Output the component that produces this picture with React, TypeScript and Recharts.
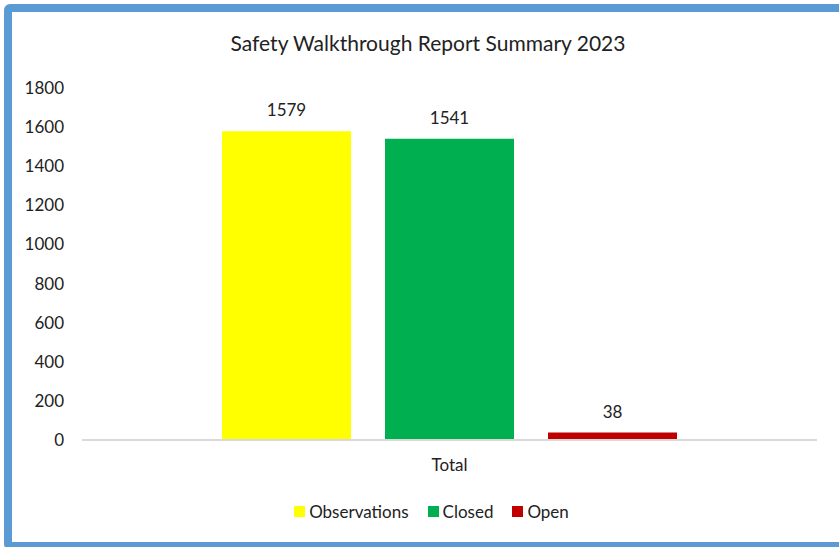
import React from 'react';
import { BarChart, Bar, XAxis, YAxis, Legend, LabelList } from 'recharts';

const categories = ['Total'];
const observations = [1579];
const closed = [1541];
const open = [38];
const yTicks = [0, 200, 400, 600, 800, 1000, 1200, 1400, 1600, 1800];

const series = [
  { key: 'observations', name: 'Observations', color: '#FFFF00' },
  { key: 'closed', name: 'Closed', color: '#00B050' },
  { key: 'open', name: 'Open', color: '#C00000' },
];

const data = categories.map((name, i) => ({
  name,
  observations: observations[i],
  closed: closed[i],
  open: open[i],
}));

const font = 'Lato, "Noto Sans", sans-serif';
const textColor = '#222';

const renderLegend = () => (
  <div
    style={{
      display: 'flex',
      justifyContent: 'center',
      paddingLeft: 46,
      paddingTop: 1,
      fontFamily: font,
      fontSize: 17,
      color: textColor,
    }}
  >
    {series.map((s, i) => (
      <div
        key={s.key}
        style={{ display: 'flex', alignItems: 'center', marginLeft: i === 0 ? 0 : 19 }}
      >
        <span style={{ display: 'inline-block', width: 11, height: 11, background: s.color, marginRight: 4 }} />
        <span>{s.name}</span>
      </div>
    ))}
  </div>
);

export default function App() {
  return (
    <div style={{ position: 'fixed', left: 0, top: 0, width: 839, height: 547, background: '#fff', overflow: 'hidden' }}>
      <div
        style={{
          position: 'absolute',
          left: 4,
          top: 4,
          width: 900,
          height: 546,
          boxSizing: 'border-box',
          border: '8px solid #5B9BD5',
          borderRadius: 6,
        }}
      />
      <div
        style={{
          position: 'absolute',
          left: 0,
          top: 30,
          width: 856,
          textAlign: 'center',
          fontFamily: font,
          fontSize: 21,
          color: textColor,
        }}
      >
        Safety Walkthrough Report Summary 2023
      </div>
      <div style={{ position: 'absolute', left: 0, top: 0 }}>
        <BarChart
          width={839}
          height={547}
          data={data}
          margin={{ top: 88, right: 22, left: 0, bottom: 23 }}
          barSize={129}
          barGap={34}
        >
          <XAxis
            dataKey="name"
            axisLine={{ stroke: '#d9d9d9', strokeWidth: 2 }}
            tickLine={false}
            tickMargin={13}
            height={60}
            tick={{ fill: textColor, fontSize: 17, fontFamily: font }}
          />
          <YAxis
            domain={[0, 1800]}
            ticks={yTicks}
            axisLine={false}
            tickLine={false}
            width={82}
            tickMargin={12}
            interval={0}
            tick={{ fill: textColor, fontSize: 17, fontFamily: font }}
          />
          <Legend verticalAlign="bottom" content={renderLegend} wrapperStyle={{ height: 24 }} />
          {series.map((s) => (
            <Bar key={s.key} dataKey={s.key} name={s.name} fill={s.color} isAnimationActive={false}>
              <LabelList
                dataKey={s.key}
                position="top"
                offset={15}
                style={{ fill: textColor, fontSize: 17, fontFamily: font }}
              />
            </Bar>
          ))}
        </BarChart>
      </div>
    </div>
  );
}
